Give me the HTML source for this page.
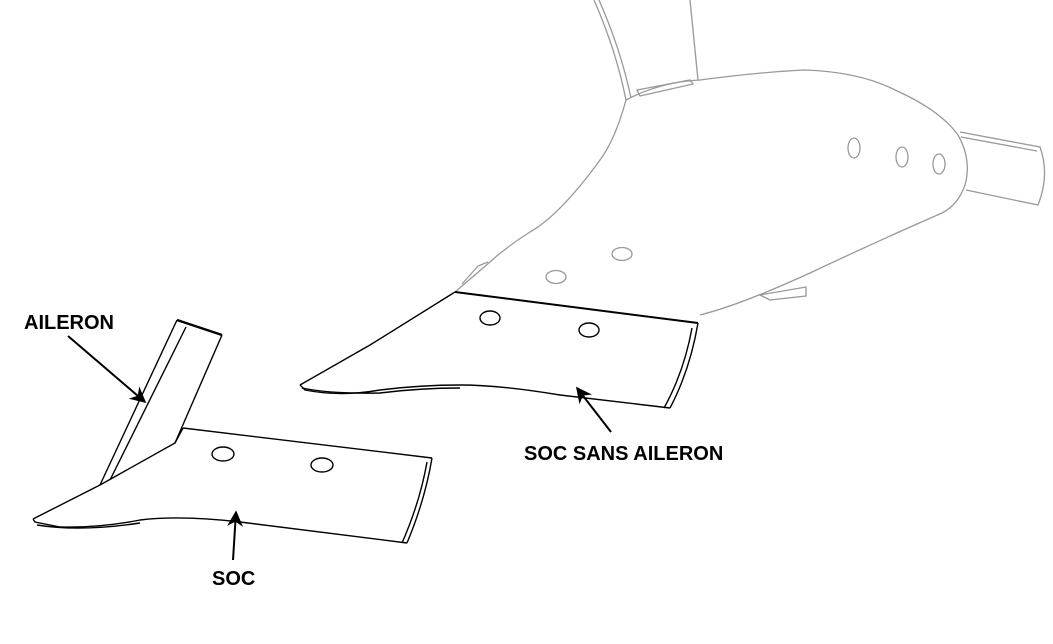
<!DOCTYPE html>
<html><head><style>
html,body{margin:0;padding:0;background:#fff;}
svg{display:block}
text{font-family:"Liberation Sans",Arial,sans-serif;font-weight:bold;font-size:20px;fill:#000}
</style></head><body>
<svg width="1053" height="644" viewBox="0 0 1053 644" xmlns="http://www.w3.org/2000/svg">
<defs>
<marker id="ah" viewBox="0 0 10 10" refX="9" refY="5" markerWidth="9" markerHeight="9" markerUnits="userSpaceOnUse" orient="auto">
<path d="M0,0 L10,5 L0,10 L3,5 z" fill="#000"/></marker>
<marker id="ah2" viewBox="0 0 10 10" refX="9" refY="5" markerWidth="8" markerHeight="8" orient="auto">
<path d="M0,0 L10,5 L0,10 L3,5 z" fill="#000"/></marker>
</defs>
<g fill="none" stroke="#999" stroke-width="1.3">
<path d="M594,0 Q616,50 626,100"/>
<path d="M599,0 Q621,50 631,98"/>
<path d="M690,0 Q694,40 698,80"/>
<path d="M637,90 L690,80 L693,84 L640,96 Z"/>
<path d="M626,100 Q660,82 700,80 Q760,72 805,70 Q860,72 895,90 Q940,110 958,135 Q972,160 965,185 Q958,205 942,213 Q880,240 810,273 Q740,305 700,315"/>
<path d="M626,100 Q615,140 600,160 Q560,215 530,232 Q505,248 490,262 L455,292"/>
<path d="M462,284 L478,266 L488,262"/>
<path d="M960,132 L1040,147 Q1050,175 1038,205 L966,190"/>
<path d="M961,137 L1037,151"/>
<path d="M760,295 L806,287 L806,296 L770,300 Z"/>
<ellipse cx="854" cy="148" rx="6" ry="10"/>
<ellipse cx="902" cy="157" rx="6" ry="10"/>
<ellipse cx="939" cy="164" rx="6" ry="10"/>
<ellipse cx="622" cy="254" rx="10" ry="6.5"/>
<ellipse cx="556" cy="277" rx="10" ry="6.5"/>
</g>
<g fill="none" stroke="#000" stroke-width="1.4">
<path d="M455,292 L698,323" stroke-width="2"/>
<path d="M698,323 Q690,370 670,408"/>
<path d="M692,328 Q684,372 664,408"/>
<path d="M670,408 L560,395 Q500,385 460,385 Q420,385 380,390 Q340,397 305,390 L300,385"/>
<path d="M302,388 Q330,394 380,393 Q420,388 460,388"/>
<path d="M300,385 L370,345 L455,292"/>
<ellipse cx="490" cy="318" rx="10" ry="7"/>
<ellipse cx="589" cy="330" rx="10" ry="7"/>
<path d="M183,428 L432,458"/>
<path d="M432,458 Q425,500 407,543"/>
<path d="M427,462 Q420,502 402,543"/>
<path d="M407,543 L240,522 Q180,515 140,520 Q100,528 60,527 L35,522 L33,519"/>
<path d="M37,525 Q80,532 140,523"/>
<path d="M33,519 L100,485 L175,443 L183,428"/>
<path d="M177,320 L222,335" stroke-width="2.5"/>
<path d="M177,320 L100,485"/>
<path d="M186,327 L110,480"/>
<path d="M222,335 L175,443"/>
<ellipse cx="223" cy="454" rx="11" ry="7"/>
<ellipse cx="322" cy="465" rx="11" ry="7"/>
</g>
<g stroke="#000" stroke-width="2">
<line x1="68" y1="336" x2="145" y2="402" marker-end="url(#ah2)"/>
<line x1="611" y1="432" x2="577" y2="388" marker-end="url(#ah2)"/>
<line x1="233" y1="560" x2="236" y2="512" marker-end="url(#ah2)"/>
</g>
<text x="24" y="329">AILERON</text>
<text x="524" y="460">SOC SANS AILERON</text>
<text x="212" y="585">SOC</text>
</svg>
</body></html>
